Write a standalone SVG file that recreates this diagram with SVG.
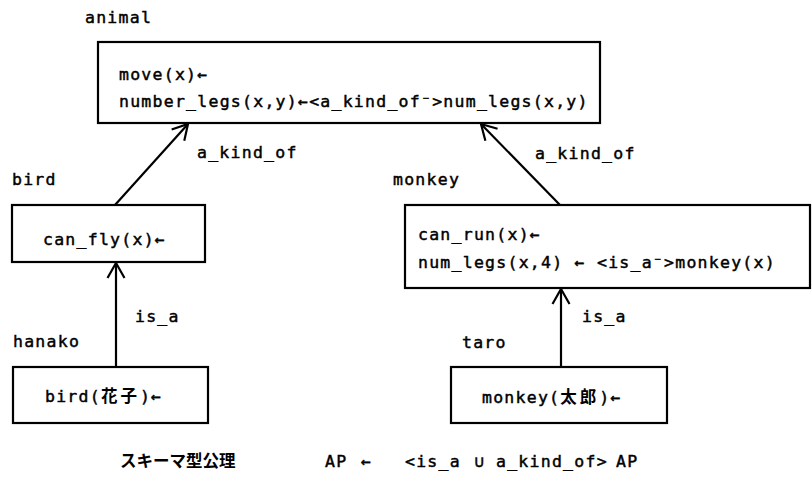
<svg xmlns="http://www.w3.org/2000/svg" width="812" height="490" viewBox="0 0 812 490">
<defs>
<style>
text{font-family:"DejaVu Sans Mono","Liberation Mono","Noto Sans CJK JP",monospace;font-size:16.5px;letter-spacing:1.25px;fill:#000;stroke:#000;stroke-width:0.45px}
.cjk{font-family:"Noto Sans CJK JP","Noto Sans CJK SC",sans-serif;letter-spacing:3px;font-weight:bold;stroke-width:0}
.box{fill:#fff;stroke:#000;stroke-width:2.2}
.edge{stroke:#000;stroke-width:2.2;fill:none;marker-end:url(#arr)}
</style>
<marker id="arr" markerUnits="userSpaceOnUse" markerWidth="30" markerHeight="30" viewBox="-20 -15 30 30" refX="0" refY="0" orient="auto">
<path d="M -15 -8.5 L 0 0 L -15 8.5" fill="none" stroke="#000" stroke-width="2.2"/>
</marker>
</defs>
<rect width="812" height="490" fill="#fff"/>
<g id="connectors">
<line class="edge" x1="115" y1="205" x2="188" y2="124"/>
<line class="edge" x1="560" y1="205" x2="481" y2="124"/>
<line class="edge" x1="116" y1="367" x2="116" y2="263"/>
<line class="edge" x1="561" y1="367" x2="561" y2="289"/>
<text x="197" y="158">a_kind_of</text>
<text x="535" y="159">a_kind_of</text>
<text x="135" y="322">is_a</text>
<text x="582" y="322">is_a</text>
</g>
<g id="animal">
<text x="85" y="23">animal</text>
<rect class="box" x="98" y="42" width="502" height="81"/>
<text x="119" y="80">move(x)←</text>
<text x="119" y="107">number_legs(x,y)←&lt;a_kind_of⁻&gt;num_legs(x,y)</text>
</g>
<g id="bird">
<text x="12" y="185">bird</text>
<rect class="box" x="12" y="205" width="193" height="57"/>
<text x="43" y="245">can_fly(x)←</text>
</g>
<g id="monkey">
<text x="393" y="185">monkey</text>
<rect class="box" x="405" y="205" width="405" height="83"/>
<text x="418" y="240">can_run(x)←</text>
<text x="418" y="268">num_legs(x,4) ← &lt;is_a⁻&gt;monkey(x)</text>
</g>
<g id="hanako">
<text x="13" y="347">hanako</text>
<rect class="box" x="13" y="367" width="195" height="56"/>
<text x="45" y="402">bird(<tspan class="cjk">花子</tspan>)←</text>
</g>
<g id="taro">
<text x="462" y="348">taro</text>
<rect class="box" x="451" y="367" width="216" height="56"/>
<text x="482" y="403">monkey(<tspan class="cjk">太郎</tspan>)←</text>
</g>
<g id="axiom">
<text y="467"><tspan x="120" class="cjk" style="letter-spacing:0">スキーマ型公理</tspan><tspan x="325">AP</tspan><tspan x="361">←</tspan><tspan x="405">&lt;is_a</tspan><tspan x="474">∪</tspan><tspan x="496">a_kind_of&gt;</tspan><tspan x="616">AP</tspan></text>
</g>
</svg>
